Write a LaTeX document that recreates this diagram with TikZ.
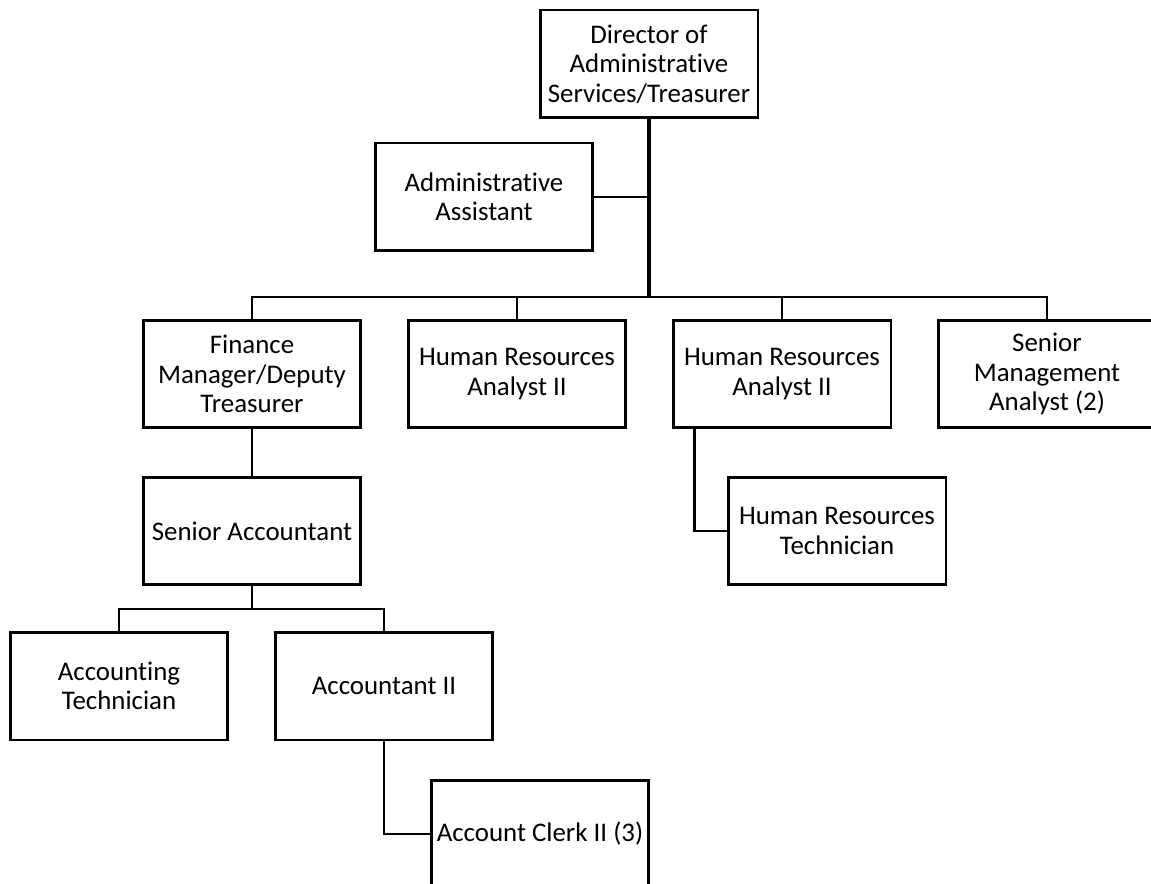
\documentclass[tikz,border=0pt]{standalone}
\usepackage{fontspec}
\setmainfont{Carlito}[Ligatures=NoCommon]
\begin{document}
\begin{tikzpicture}[x=0.02cm,y=-0.02cm,line width=1.6pt,every node/.style={draw,rectangle,line width=1.7pt,minimum width=4.36cm,minimum height=2.16cm,inner sep=1pt,align=center,font=\fontsize{15.3}{16.8}\selectfont}]
\clip (0,0) rectangle (1151,884);
\node (director) at (649,64) {Director of\\Administrative\\Services/Treasurer};
\node (admin-asst) at (484,197) {Administrative\\Assistant};
\node (finance) at (252,374) {Finance\\Manager/Deputy\\Treasurer};
\node (hr-analyst-a) at (517,374) {Human Resources\\Analyst II};
\node (hr-analyst-b) at (782,374) {Human Resources\\Analyst II};
\node (mgmt-analyst) at (1047,374) {Senior\\Management\\Analyst (2)};
\node (sr-acct) at (252,531) {Senior Accountant};
\node (hr-tech) at (837,531) {Human Resources\\Technician};
\node (acct-tech) at (119,686) {Accounting\\Technician};
\node (acct-two) at (384,686) {Accountant II};
\node (clerk) at (540,834) {Account Clerk II (3)};
\coordinate (top-bus) at (649,297);
\coordinate (acct-bus) at (252,609);

\draw[line width=2.5pt] (director) -- (top-bus);
  \draw (admin-asst) -- (admin-asst -| top-bus);
\draw (finance) |- (top-bus) -| (mgmt-analyst);
  \draw (hr-analyst-a) -- (hr-analyst-a |- top-bus);
  \draw (hr-analyst-b) -- (hr-analyst-b |- top-bus);
\draw ([xshift=0.46cm]hr-analyst-b.south west) |- (hr-tech);
\draw (finance) -- (sr-acct);
\draw (sr-acct) -- (acct-bus);
\draw (acct-tech) |- (acct-bus) -| (acct-two);
\draw (acct-two) |- (clerk);
\end{tikzpicture}
\end{document}
